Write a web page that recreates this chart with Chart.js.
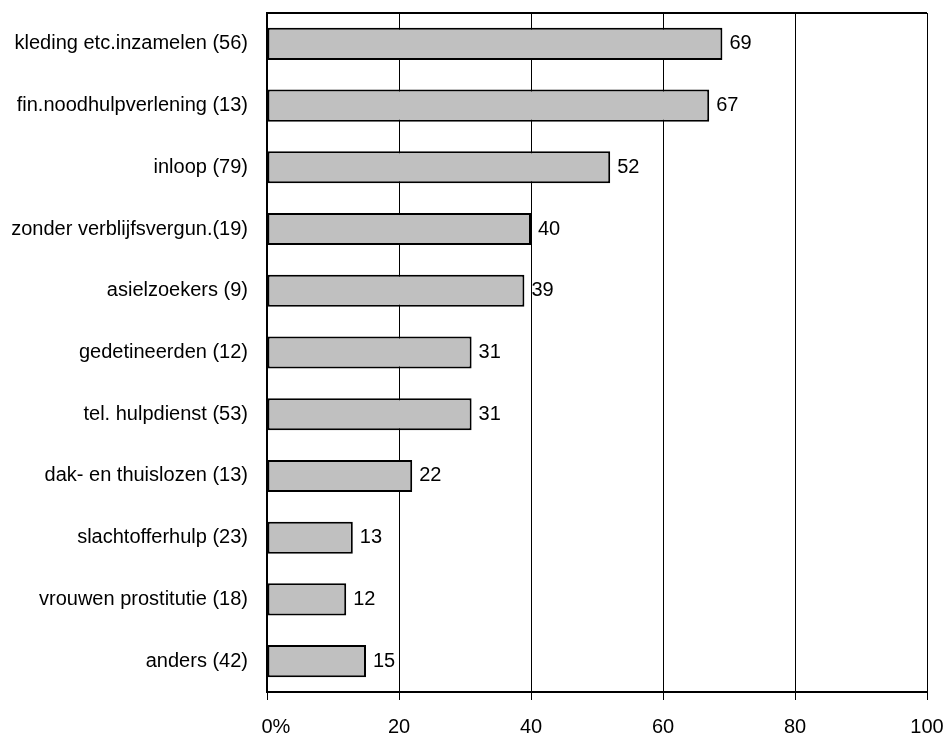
<!DOCTYPE html>
<html>
<head>
<meta charset="utf-8">
<script src="https://cdn.jsdelivr.net/npm/chart.js@4/dist/chart.umd.min.js"></script>
<style>
  html, body { margin: 0; padding: 0; background: #fff; }
  #wrap { width: 946px; height: 737px; }
</style>
</head>
<body>
<div id="wrap"><canvas id="chart" width="946" height="737"></canvas></div>
<script>
// categories (n between brackets) and percentages
const categories = [
    'kleding etc.inzamelen (56)',
    'fin.noodhulpverlening (13)',
    'inloop (79)',
    'zonder verblijfsvergun.(19)',
    'asielzoekers (9)',
    'gedetineerden (12)',
    'tel. hulpdienst (53)',
    'dak- en thuislozen (13)',
    'slachtofferhulp (23)',
    'vrouwen prostitutie (18)',
    'anders (42)'
];
const percentages = [69, 67, 52, 40, 39, 31, 31, 22, 13, 12, 15];
const xTicks = [0, 20, 40, 60, 80, 100];

const FONT = '"Liberation Sans", Arial, sans-serif';

// value labels next to bars, x tick labels, top border
const extras = {
    id: 'extras',
    afterDatasetsDraw(chart) {
        const ctx = chart.ctx;
        const meta = chart.getDatasetMeta(0);
        ctx.save();
        ctx.fillStyle = '#000';
        ctx.font = '20px ' + FONT;
        ctx.textAlign = 'left';
        ctx.textBaseline = 'middle';
        meta.data.forEach((bar, i) => {
            ctx.fillText(String(percentages[i]), bar.x + 7, bar.y);
        });
        ctx.restore();
    },
    afterDraw(chart) {
        const ctx = chart.ctx;
        const area = chart.chartArea;
        const xs = chart.scales.x;
        ctx.save();
        ctx.strokeStyle = '#000';
        ctx.lineWidth = 2;
        ctx.beginPath();
        ctx.moveTo(area.left, area.top);
        ctx.lineTo(area.right, area.top);
        ctx.stroke();

        ctx.fillStyle = '#000';
        ctx.font = '20px ' + FONT;
        ctx.textBaseline = 'middle';
        xTicks.forEach(v => {
            const px = xs.getPixelForValue(v);
            if (v === 0) {
                const w = ctx.measureText('0').width;
                ctx.textAlign = 'left';
                ctx.fillText('0%', px - w / 2, 727);
            } else {
                ctx.textAlign = 'center';
                ctx.fillText(String(v), px, 727);
            }
        });
        ctx.restore();
    }
};

new Chart(document.getElementById('chart'), {
    type: 'bar',
    data: {
        labels: categories,
        datasets: [{
            data: percentages,
            backgroundColor: '#c0c0c0',
            borderColor: '#000',
            borderWidth: 2,
            borderSkipped: false,
            categoryPercentage: 1,
            barPercentage: 0.52
        }]
    },
    options: {
        indexAxis: 'y',
        responsive: false,
        animation: false,
        layout: { padding: { top: 13, right: 19, left: 0, bottom: 0 } },
        plugins: {
            legend: { display: false },
            tooltip: { enabled: false }
        },
        scales: {
            x: {
                min: 0,
                max: 100,
                ticks: { display: false, stepSize: 20 },
                grid: { color: '#000', lineWidth: 1, drawTicks: true, tickLength: 8, tickColor: '#000' },
                border: { color: '#000', width: 2 },
                afterFit(scale) {
                    scale.height = 45;
                    scale.paddingLeft = 0;
                    scale.paddingRight = 0;
                }
            },
            y: {
                grid: { display: false, drawTicks: false },
                border: { color: '#000', width: 2 },
                ticks: {
                    color: '#000',
                    font: { family: FONT, size: 20 },
                    padding: 19
                },
                afterFit(scale) {
                    scale.width = 267;
                    scale.paddingTop = 0;
                    scale.paddingBottom = 0;
                }
            }
        }
    },
    plugins: [extras]
});
</script>
</body>
</html>
